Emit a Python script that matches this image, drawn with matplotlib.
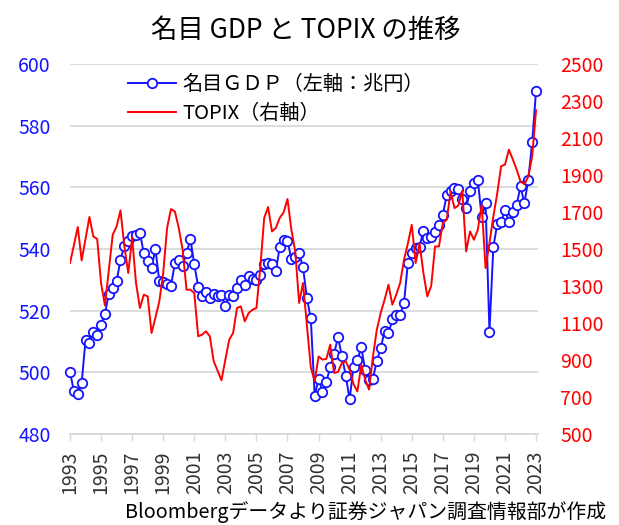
import numpy as np
import matplotlib
matplotlib.use("Agg")
import matplotlib.pyplot as plt

plt.rcParams['font.family'] = ['Noto Sans CJK JP', 'DejaVu Sans']

# 四半期データ（1993年～2023年）
year_labels = [str(y) for y in range(1993, 2024, 2)]

# 名目GDP（兆円）
gdp = [500, 494, 493, 496.5, 510.5, 509.5, 513, 512, 515.5, 519,
       525.5, 527.5, 529.5, 536.5, 541, 542.5, 544.3, 544.5, 545.3, 538.6,
       536, 534, 540, 529.5, 529.4, 528.5, 528, 535.4, 536.3, 534.5,
       538.6, 543.2, 535, 527.8, 524.6, 525.9, 524.2, 525.5, 524.8, 525.1,
       521.5, 525.1, 524.8, 527.3, 530, 528.4, 531.3, 530.3, 530, 531.6,
       535.2, 535.4, 535, 532.9, 540.6, 543, 542.7, 536.7, 537.3, 538.6,
       534.1, 524, 517.5, 492.4, 498, 493.7, 497, 501.6, 506, 511.4,
       505.3, 498.9, 491.2, 501.8, 504, 508.1, 500.7, 497.5, 498, 503.7,
       507.8, 513.4, 512.6, 517.2, 518.5, 518.6, 522.6, 535.4, 538.6, 540.3,
       540.8, 546, 543.7, 544, 545.5, 547.8, 551.1, 557.6, 558.7, 559.8,
       559.5, 556.1, 553.4, 558.7, 561.4, 562.4, 550.3, 554.9, 513.2, 540.7,
       548, 548.9, 552.5, 548.9, 552.1, 554.3, 560.3, 554.8, 562.5, 574.6,
       591.4]

# TOPIX
topix = [1424, 1520, 1619, 1438, 1555, 1673, 1568, 1554, 1316, 1194,
         1388, 1577, 1622, 1709, 1514, 1370, 1560, 1316, 1181, 1253,
         1244, 1046, 1130, 1217, 1370, 1614, 1716, 1703, 1614, 1496,
         1280, 1280, 1262, 1028, 1037, 1055, 1028, 893, 843, 790,
         902, 1010, 1046, 1181, 1190, 1109, 1154, 1172, 1181, 1400,
         1668, 1727, 1595, 1614, 1668, 1698, 1770, 1604, 1487, 1208,
         1316, 1087, 860, 785, 919, 902, 906, 983, 830, 835,
         884, 893, 847, 770, 730, 874, 794, 740, 919, 1064,
         1154, 1226, 1307, 1199, 1253, 1316, 1442, 1530, 1631, 1424,
         1532, 1370, 1244, 1300, 1514, 1514, 1641, 1658, 1811, 1721,
         1735, 1816, 1487, 1595, 1550, 1604, 1739, 1397, 1532, 1676,
         1800, 1947, 1956, 2037, 1985, 1929, 1865, 1850, 1892, 2001,
         2250]

x = np.arange(len(gdp))

W, H = 619, 525
fig = plt.figure(figsize=(W / 100, H / 100), dpi=100)
ax = fig.add_axes([70 / W, 91 / H, 468 / W, 370 / H])

grid_col = '#d9d9d9'
blue = '#1414ff'
red = '#ff0000'

ax.set_xlim(0, 120.5)
ax.set_ylim(480, 600)
ax.set_yticks(range(480, 601, 20))
ax.yaxis.grid(True, color=grid_col, lw=1.3)
ax.set_axisbelow(True)
for s in ['top', 'left', 'right']:
    ax.spines[s].set_visible(False)
ax.spines['bottom'].set_color(grid_col)
ax.spines['bottom'].set_linewidth(1.3)

ax.set_xticks(range(0, 121, 8))
ax.set_xticklabels(year_labels, rotation=90, fontsize=14, color='#333333')
ax.tick_params(axis='x', direction='out', length=5, width=1, color=grid_col, pad=7)
ax.tick_params(axis='y', length=0, pad=14, labelsize=14, labelcolor=blue)

line_gdp, = ax.plot(x, gdp, color=blue, lw=1.4, marker='o', ms=6.8,
                    mfc='white', mec=blue, mew=1.3, clip_on=False)

ax2 = ax.twinx()
ax2.set_ylim(500, 2500)
ax2.set_yticks(range(500, 2501, 200))
for s in ax2.spines.values():
    s.set_visible(False)
ax2.tick_params(axis='y', length=0, pad=16, labelsize=14, labelcolor=red)
line_topix, = ax2.plot(x, topix, color=red, lw=1.4)

ax2.legend([line_gdp, line_topix], ['名目ＧＤＰ（左軸：兆円）', 'TOPIX（右軸）'],
           loc='upper left', bbox_to_anchor=(128 / W, 1 - 74 / H),
           bbox_transform=fig.transFigure, frameon=False, fontsize=14.5,
           handlelength=2.4, handletextpad=0.3, labelspacing=0.4,
           borderpad=0, borderaxespad=0)

fig.text(306 / W, 1 - 30 / H, '名目 GDP と TOPIX の推移', ha='center', va='center',
         fontsize=19)
fig.text(606 / W, 1 - 512 / H, 'Bloombergデータより証券ジャパン調査情報部が作成',
         ha='right', va='center', fontsize=14.3)

fig.savefig('out.png', dpi=100)
